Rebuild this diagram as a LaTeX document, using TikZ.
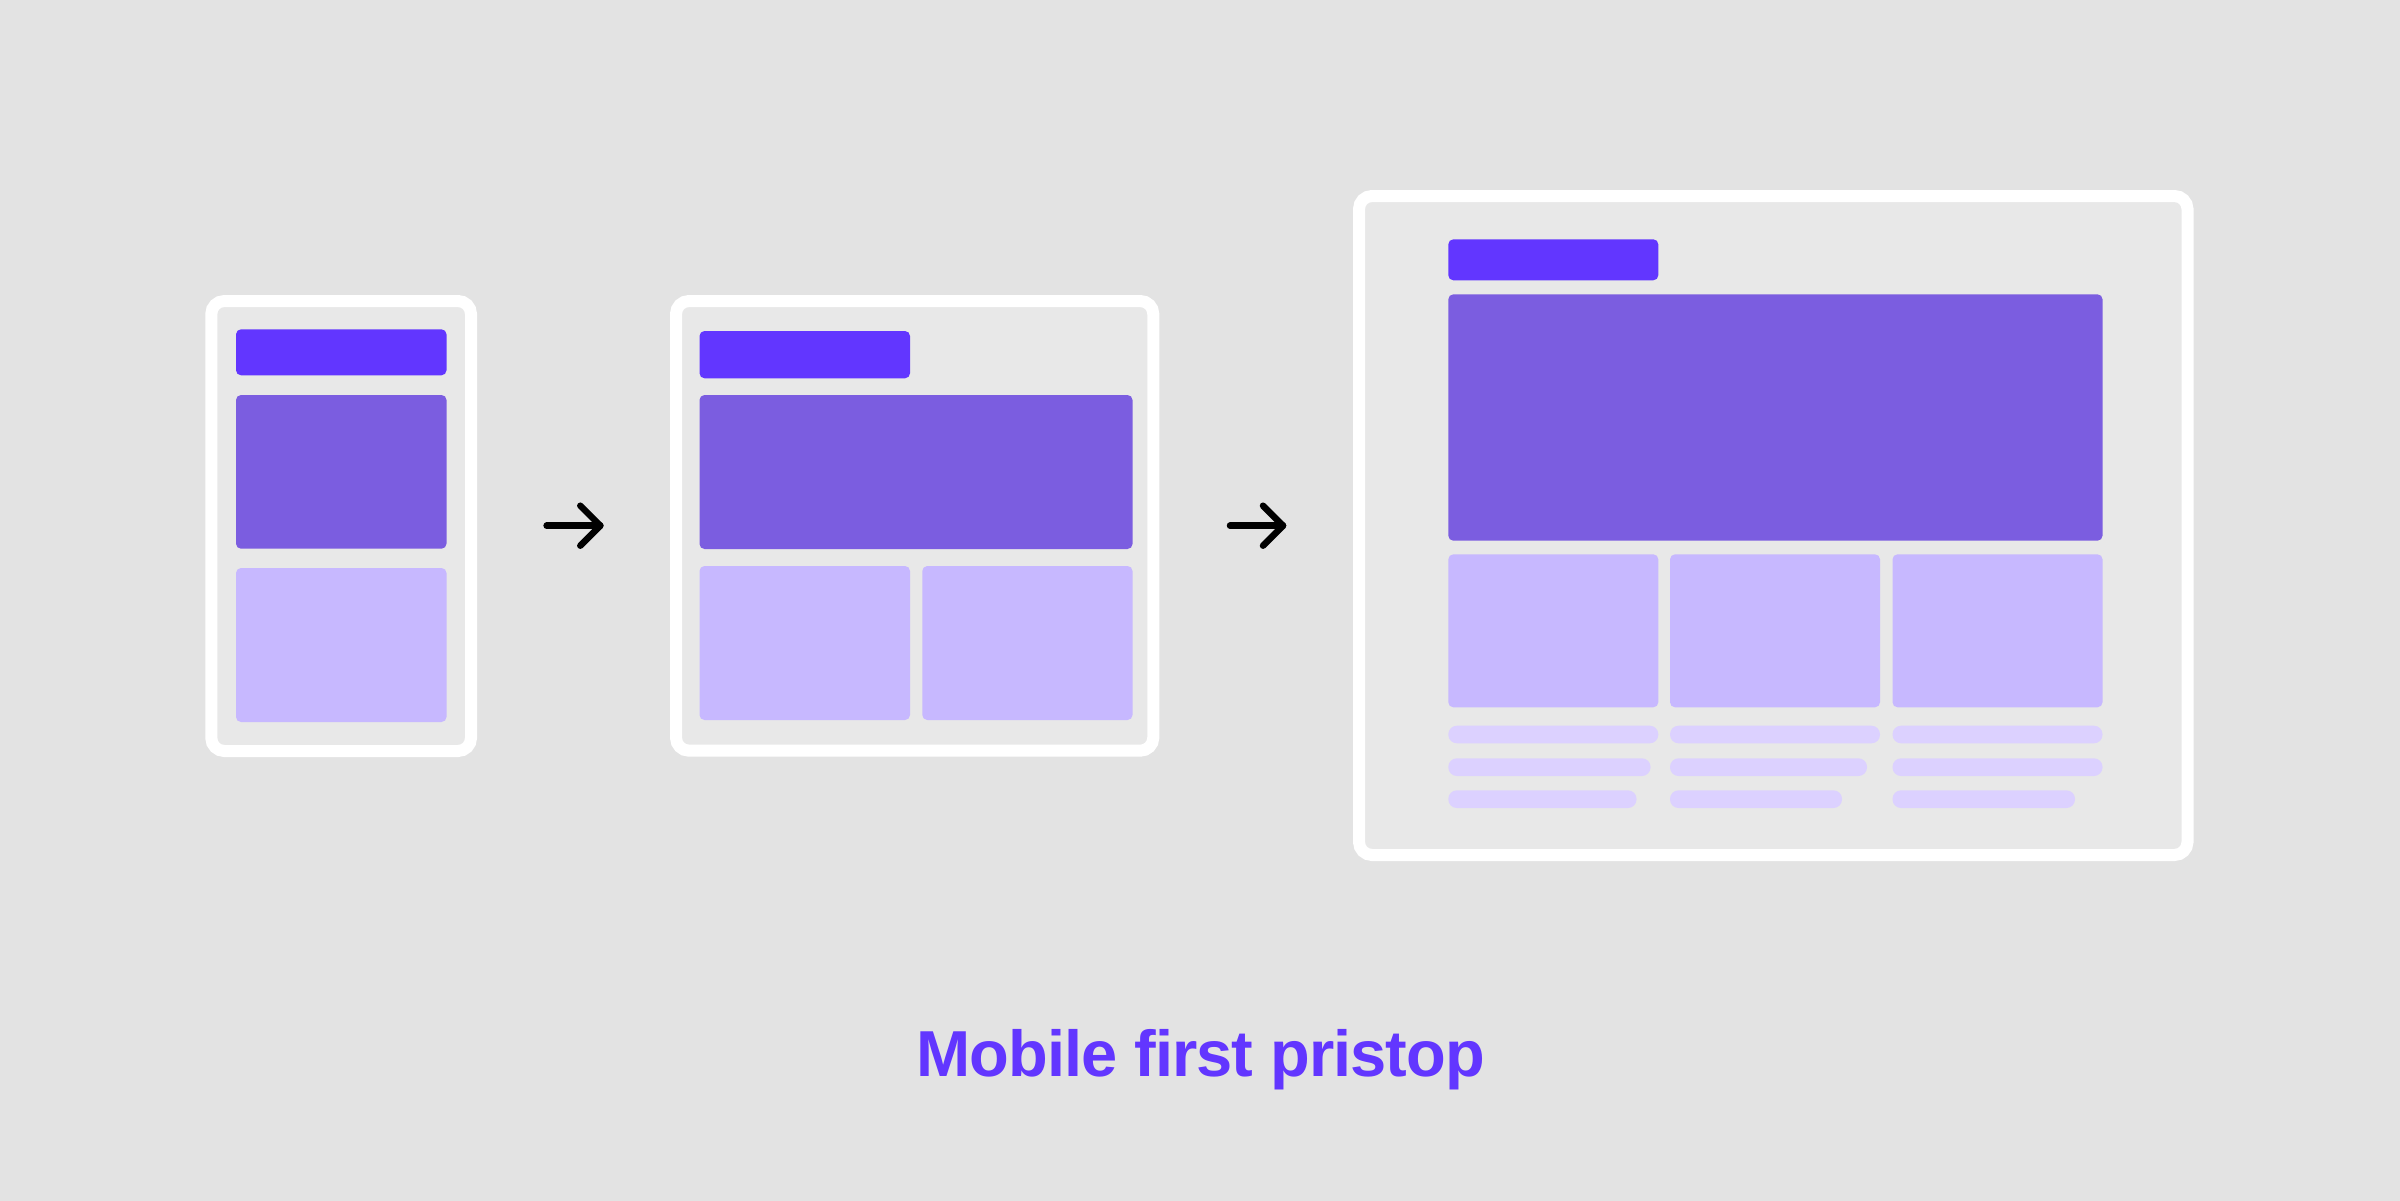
\documentclass[tikz,border=0pt]{standalone}
\usepackage{fontspec}
\setmainfont{Liberation Sans}
\definecolor{bgc}{HTML}{E3E3E3}
\definecolor{screenc}{HTML}{E8E8E8}
\definecolor{headc}{HTML}{6236FF}
\definecolor{heroc}{HTML}{7B5DE0}
\definecolor{cardc}{HTML}{C7B8FF}
\definecolor{linec}{HTML}{DCD1FF}
\tikzset{
  frame/.style={draw=white, fill=screenc, line width=12pt, rounded corners=13pt},
  headblk/.style={fill=headc, rounded corners=5pt},
  heroblk/.style={fill=heroc, rounded corners=5pt},
  cardblk/.style={fill=cardc, rounded corners=5pt},
  lineblk/.style={fill=linec, rounded corners=8.5pt},
  arrowline/.style={draw=black, line width=6.5pt, line cap=round, line join=round},
  title/.style={text=headc, font=\fontsize{65pt}{70pt}\selectfont\bfseries\addfontfeature{LetterSpace=-1.5}, inner sep=0pt}
}
\begin{document}
\begin{tikzpicture}[x=1pt,y=-1pt]
\useasboundingbox (0,0) rectangle (2400,1200);
\fill[bgc] (-20,-20) rectangle (2420,1220);

% phone
\draw[frame] (211.3,301) rectangle (471,751);
\fill[headblk] (236,329.3) rectangle (446.5,375.3);
\fill[heroblk] (236,395) rectangle (446.5,548.7);
\fill[cardblk] (236,568) rectangle (446.5,722);

% tablet
\draw[frame] (676,301) rectangle (1153.3,750.7);
\fill[headblk] (699.5,331) rectangle (910,378.3);
\fill[heroblk] (699.5,395) rectangle (1132.5,549);
\fill[cardblk] (699.5,566) rectangle (910,720);
\fill[cardblk] (922.3,566) rectangle (1132.5,720);

% desktop
\draw[frame] (1359,196) rectangle (2187.5,855);
\fill[headblk] (1448.3,239.3) rectangle (1658.3,280.3);
\fill[heroblk] (1448.3,294.3) rectangle (2102.5,540.7);
\fill[cardblk] (1448.3,554.3) rectangle (1658.3,707.3);
\fill[cardblk] (1670,554.3) rectangle (1880,707.3);
\fill[cardblk] (1892.5,554.3) rectangle (2102.5,707.3);
% text lines
\fill[lineblk] (1448.3,725.7) rectangle (1658.3,743.3);
\fill[lineblk] (1448.3,758.3) rectangle (1650.5,776.0);
\fill[lineblk] (1448.3,790.3) rectangle (1636.5,808.0);
\fill[lineblk] (1670,725.7) rectangle (1880,743.3);
\fill[lineblk] (1670,758.3) rectangle (1867,776.0);
\fill[lineblk] (1670,790.3) rectangle (1842,808.0);
\fill[lineblk] (1892.5,725.7) rectangle (2102.5,743.3);
\fill[lineblk] (1892.5,758.3) rectangle (2102.5,776.0);
\fill[lineblk] (1892.5,790.3) rectangle (2075,808.0);

% arrows
\coordinate (a1s) at (546.6,525.7);
\coordinate (a1e) at (600.3,525.7);
\coordinate (a1t) at (580.3,505.7);
\coordinate (a1b) at (580.3,545.7);
\draw[arrowline] (a1s) -- (a1e);
\draw[arrowline] (a1t) -- (a1e) -- (a1b);

\coordinate (a2s) at (1230,525.7);
\coordinate (a2e) at (1283,525.7);
\coordinate (a2t) at (1263,505.7);
\coordinate (a2b) at (1263,545.7);
\draw[arrowline] (a2s) -- (a2e);
\draw[arrowline] (a2t) -- (a2e) -- (a2b);

% title
\node[title, anchor=base] (ttl) at (1200.5,1076.5) {Mobile first pristop};
\end{tikzpicture}
\end{document}
